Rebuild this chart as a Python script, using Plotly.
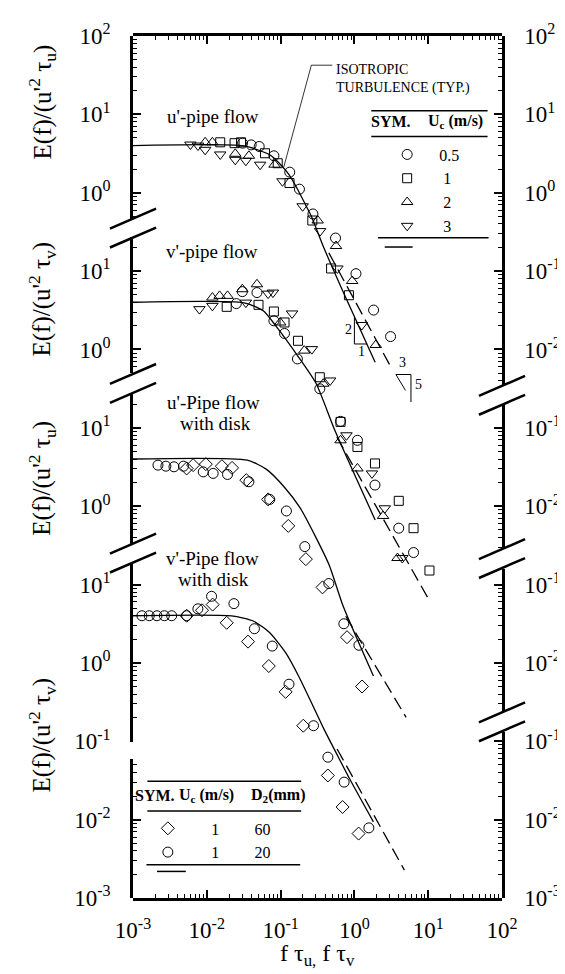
import numpy as np
import plotly.graph_objects as go

# ---------------- data ----------------
# Panel 1: u'-pipe flow, E(f)/(u'^2 tau_u) vs f tau_u ; symbols by U_c (m/s)
p1_u05_x = [0.0305, 0.0399, 0.0513, 0.0811, 0.133, 0.180, 0.274, 0.555, 1.05, 1.82, 3.09]
p1_u05_y = [4.29, 4.08, 3.89, 2.96, 1.83, 1.11, 0.536, 0.264, 0.0927, 0.0318, 0.0146]
p1_u1_x = [0.0152, 0.0238, 0.0291, 0.0614, 0.0914, 0.132, 0.269, 0.483, 0.843]
p1_u1_y = [4.4, 4.29, 4.4, 3.19, 2.38, 1.33, 0.442, 0.108, 0.0492]
p1_u2_x = [0.0095, 0.0119, 0.0243, 0.0372, 0.0828, 0.318, 0.564, 0.933, 1.95]
p1_u2_y = [4.4, 4.4, 3.14, 2.96, 2.28, 0.442, 0.209, 0.0748, 0.0114]
p1_u3_x = [0.0060, 0.0076, 0.0095, 0.0152, 0.0243, 0.0338, 0.0528, 0.106, 0.199, 0.343, 0.589, 1.26]
p1_u3_y = [4.12, 4.0, 3.53, 3.08, 2.63, 2.56, 2.28, 1.40, 0.672, 0.324, 0.108, 0.0205]
p1_curve_x = [0.001, 0.0321, 0.0713, 0.096, 0.130, 0.166, 0.213, 0.261, 0.387, 0.705, 1.91]
p1_curve_y = [4.0, 3.95, 3.05, 2.38, 1.70, 1.15, 0.733, 0.501, 0.197, 0.0542, 0.00686]
p1_dash_x = [0.45, 3.14]
p1_dash_y = [0.171, 0.0059]

# Panel 2: v'-pipe flow, E(f)/(u'^2 tau_v)
p2_u05_x = [0.0251, 0.0303, 0.0478, 0.0811, 0.113, 0.169, 0.340, 0.649, 1.10, 1.90, 3.99, 6.33]
p2_u05_y = [3.85, 5.47, 5.32, 2.32, 1.60, 0.757, 0.315, 0.121, 0.0693, 0.0186, 0.00524, 0.00256]
p2_u1_x = [0.0186, 0.0502, 0.0811, 0.113, 0.172, 0.340, 0.649, 1.10, 1.90, 3.99, 6.33, 10.4]
p2_u1_y = [3.50, 3.71, 3.05, 2.21, 1.29, 0.442, 0.119, 0.0570, 0.0351, 0.0117, 0.00524, 0.00151]
p2_u2_x = [0.0119, 0.0149, 0.0191, 0.0303, 0.0478, 0.0987, 0.209, 0.378, 0.649, 1.10, 2.45, 3.84]
p2_u2_y = [4.59, 4.83, 4.83, 5.87, 6.79, 2.21, 0.966, 0.365, 0.0693, 0.0303, 0.0075, 0.00218]
p2_u3_x = [0.00794, 0.0119, 0.0338, 0.0678, 0.0787, 0.143, 0.265, 0.469, 0.780, 1.73, 2.58, 4.46]
p2_u3_y = [3.27, 3.60, 3.96, 5.16, 5.32, 2.88, 1.01, 0.402, 0.0803, 0.0262, 0.0094, 0.00218]
p2_curve_x = [0.001, 0.0321, 0.0583, 0.0861, 0.177, 0.303, 0.550, 1.91]
p2_curve_y = [4.0, 3.93, 3.11, 2.0, 0.787, 0.367, 0.0903, 0.00668]
p2_dash_x = [0.578, 9.9]
p2_dash_y = [0.0764, 0.000676]

# Panel 3: u'-pipe flow with disk (U_c = 1 m/s), symbols by D2 (mm)
p3_d20_x = [0.00218, 0.00279, 0.00359, 0.00483, 0.00895, 0.0122, 0.0191, 0.0372, 0.0713, 0.120, 0.213, 0.450, 0.719, 1.15]
p3_d20_y = [3.34, 3.24, 3.18, 3.24, 2.74, 2.62, 2.54, 2.05, 1.22, 0.869, 0.305, 0.103, 0.0316, 0.0168]
p3_d60_x = [0.00533, 0.00652, 0.00970, 0.0160, 0.0220, 0.0343, 0.0678, 0.127, 0.220, 0.370, 0.794, 1.27]
p3_d60_y = [3.03, 3.34, 3.44, 3.24, 3.08, 2.15, 1.22, 0.560, 0.211, 0.0920, 0.0213, 0.0050]
p3_curve_x = [0.001, 0.0354, 0.0638, 0.109, 0.184, 0.303, 0.459, 0.705, 1.81]
p3_curve_y = [4.0, 3.86, 2.97, 1.81, 0.949, 0.394, 0.174, 0.0528, 0.00682]
p3_dash_x = [0.764, 5.02]
p3_dash_y = [0.0394, 0.00202]

# Panel 4: v'-pipe flow with disk
p4_d20_x = [0.00132, 0.00166, 0.00211, 0.00266, 0.00334, 0.00533, 0.00757, 0.0116, 0.0233, 0.0442, 0.0771, 0.130, 0.279, 0.437, 0.726, 1.57]
p4_d20_y = [4.0, 4.0, 4.0, 4.0, 4.0, 4.0, 4.90, 7.08, 5.71, 2.73, 1.64, 0.535, 0.158, 0.0627, 0.0301, 0.00785]
p4_d60_x = [0.00533, 0.00861, 0.0120, 0.0186, 0.0362, 0.0692, 0.117, 0.203, 0.437, 0.692, 1.14]
p4_d60_y = [4.0, 4.70, 5.55, 3.25, 1.87, 0.912, 0.427, 0.158, 0.0366, 0.0145, 0.00664]
p4_curve_x = [0.001, 0.0216, 0.0432, 0.0713, 0.117, 0.175, 0.261, 0.387, 0.578, 0.861, 1.81]
p4_curve_y = [4.0, 3.98, 3.40, 2.43, 1.35, 0.682, 0.313, 0.143, 0.0685, 0.0332, 0.00935]
p4_dash_x = [0.583, 4.76]
p4_dash_y = [0.0798, 0.00227]

# slope markers (panel-1 units) and leader line of the "isotropic" label
slope21_x = [1.0, 1.0, 1.49]
slope21_y = [0.0256, 0.01175, 0.01175]
slope35_x = [4.92, 3.65, 5.84, 5.84]
slope35_y = [0.0030, 0.00479, 0.00479, 0.00213]
leader_x = [0.110, 0.261, 0.502]
leader_y = [2.1, 42.4, 42.4]

x_tick_vals = [1e-3, 1e-2, 1e-1, 1e0, 1e1, 1e2]
x_tick_text = ["10<sup>-3</sup>", "10<sup>-2</sup>", "10<sup>-1</sup>", "10<sup>0</sup>", "10<sup>1</sup>", "10<sup>2</sup>"]

# ---------------- page geometry ----------------
W, H = 565, 974
PL, PR, PT, PB = 125, 509, 24, 890
LOG_TOP, LOG_BOT = 2.0, -9.0
PANEL_SCALE = [1.0, 1e-2, 1e-4, 1e-6]   # each panel stacked two decades lower
FONT = "Liberation Serif"


def fx(px):
    return (px - PL) / (PR - PL)


def fy(py):
    return (PB - py) / (PB - PT)


def lg(py):
    return LOG_TOP - (py - PT) * (LOG_TOP - LOG_BOT) / (PB - PT)


def sup(e):
    return "10<sup>%d</sup>" % e


fig = go.Figure()

LINE = dict(color="black", width=1.3)
DASH = dict(color="black", width=1.3, dash="13px,6px")


def mk(sym, size=10):
    return dict(symbol=sym, size=size, color="black", line=dict(color="black", width=1))


def add_pts(x, y, panel, sym, name=None, legend=None, size=10):
    fig.add_trace(go.Scatter(
        x=x, y=np.array(y) * PANEL_SCALE[panel], mode="markers", marker=mk(sym, size),
        name=name or "", showlegend=legend is not None, legend=legend or "legend",
        hoverinfo="skip"))


def add_line(x, y, panel, style, shape="spline"):
    st = dict(style, shape=shape)
    if shape == "spline":
        st["smoothing"] = 0.6
    fig.add_trace(go.Scatter(
        x=x, y=np.array(y) * PANEL_SCALE[panel], mode="lines", line=st,
        showlegend=False, hoverinfo="skip"))


# curves
add_line(p1_curve_x, p1_curve_y, 0, LINE)
add_line(p1_dash_x, p1_dash_y, 0, DASH, shape="linear")
add_line(p2_curve_x, p2_curve_y, 1, LINE)
add_line(p2_dash_x, p2_dash_y, 1, DASH, shape="linear")
add_line(p3_curve_x, p3_curve_y, 2, LINE)
add_line(p3_dash_x, p3_dash_y, 2, DASH, shape="linear")
add_line(p4_curve_x, p4_curve_y, 3, LINE)
add_line(p4_dash_x, p4_dash_y, 3, DASH, shape="linear")
add_line(slope21_x, slope21_y, 0, dict(color="black", width=1), shape="linear")
add_line(slope35_x, slope35_y, 0, dict(color="black", width=1), shape="linear")
add_line(leader_x, leader_y, 0, dict(color="black", width=0.8), shape="linear")

# points
PS = "\u2008"   # punctuation space, centres the one-digit values under "0.5"
add_pts(p1_u05_x, p1_u05_y, 0, "circle-open", "0.5", "legend")
add_pts(p1_u1_x, p1_u1_y, 0, "square-open", PS + "1", "legend", 9)
add_pts(p1_u2_x, p1_u2_y, 0, "triangle-up-open", PS + "2", "legend")
add_pts(p1_u3_x, p1_u3_y, 0, "triangle-down-open", PS + "3", "legend")
add_pts(p2_u05_x, p2_u05_y, 1, "circle-open")
add_pts(p2_u1_x, p2_u1_y, 1, "square-open", size=9)
add_pts(p2_u2_x, p2_u2_y, 1, "triangle-up-open")
add_pts(p2_u3_x, p2_u3_y, 1, "triangle-down-open")
NB = "\u2007"
add_pts(p3_d60_x, p3_d60_y, 2, "diamond-open", "1" + NB * 4 + "\u2009" + "60", "legend2")
add_pts(p3_d20_x, p3_d20_y, 2, "circle-open", "1" + NB * 4 + "\u2009" + "20", "legend2")
add_pts(p4_d60_x, p4_d60_y, 3, "diamond-open")
add_pts(p4_d20_x, p4_d20_y, 3, "circle-open")

# ---------------- axes ----------------
minor_vals = [m * 10.0 ** k for k in range(-10, 3) for m in range(2, 10)]
TICKFONT = dict(family=FONT, size=23, color="black")

layout_axes = {}
layout_axes["xaxis"] = dict(
    type="log", range=[-3, 2], domain=[0, 1], anchor="y", showline=True, linewidth=2.5,
    linecolor="black", mirror="ticks", ticks="inside", ticklen=8, tickwidth=1.5, tickcolor="black",
    tickvals=x_tick_vals, ticktext=x_tick_text, tickfont=TICKFONT, ticklabelstandoff=10,
    minor=dict(tickvals=minor_vals, ticks="inside", ticklen=4, tickwidth=1, tickcolor="black"),
    showgrid=False, zeroline=False)
layout_axes["yaxis"] = dict(type="log", range=[LOG_BOT, LOG_TOP], domain=[0, 1], anchor="x",
                            visible=False, showgrid=False, zeroline=False)

# axis segments (pixel top, pixel bottom, tick positions (stacked decades), tick label exponents)
left_segments = [
    (24, 208, [2, 1, 0], [2, 1, 0]),
    (226, 363, [-1, -2], [1, 0]),
    (383, 534, [-3, -4], [1, 0]),
    (553, 733, [-5, -6, -7], [1, 0, -1]),
    (750, 890, [-8, -9], [-2, -3]),
]
right_segments = [
    (24, 376, [2, 1, 0, -1, -2], [2, 1, 0, -1, -2]),
    (394, 539, [-3, -4], [-1, -2]),
    (559, 703, [-5, -6], [-1, -2]),
    (723, 890, [-7, -8, -9], [-1, -2, -3]),
]
n = 2
for side, segs in (("left", left_segments), ("right", right_segments)):
    for top, bot, pos, labs in segs:
        layout_axes["yaxis%d" % n] = dict(
            type="log", range=[lg(bot), lg(top)], domain=[fy(bot), fy(top)], anchor="x", side=side,
            showline=True, linewidth=2.5, linecolor="black", ticks="inside", ticklen=8, tickwidth=1.5,
            tickcolor="black", tickvals=[10.0 ** p for p in pos], ticktext=[sup(e) for e in labs],
            tickfont=TICKFONT, ticklabelstandoff=15,
            minor=dict(tickvals=minor_vals, ticks="inside", ticklen=4, tickwidth=1, tickcolor="black"),
            showgrid=False, zeroline=False)
        fig.add_trace(go.Scatter(x=[None], y=[None], yaxis="y%d" % n, showlegend=False, hoverinfo="skip"))
        n += 1

# ---------------- breaks, rules, texts ----------------
shapes = []


def pline(x0, y0, x1, y1, w=1.5):
    shapes.append(dict(type="line", xref="paper", yref="paper", x0=fx(x0), y0=fy(y0), x1=fx(x1), y1=fy(y1),
                       line=dict(color="black", width=w)))


for ax_x, cy in ((PL, 217), (PL, 373), (PL, 543.5), (PR, 385), (PR, 549), (PR, 713)):
    for d in (-9.5, 9.5):
        pline(ax_x - 24, cy + d + 10, ax_x + 24, cy + d - 10, 2.5)

# legend rules
pline(373, 99, 494, 99)
pline(373, 125, 494, 125)
pline(380, 226.7, 495, 226.7)
pline(387, 236, 416, 236)
pline(140, 772.7, 300, 772.7)
pline(140, 802.7, 300, 802.7)
pline(139, 856.7, 299, 856.7)
pline(150, 863.3, 180, 863.3)

ann = []


def text(px, py, s, size=19, anchor="center", angle=0, bold=False, yanchor="middle"):
    ann.append(dict(xref="paper", yref="paper", x=fx(px), y=fy(py), text=("<b>%s</b>" % s) if bold else s,
                    showarrow=False, xanchor=anchor, yanchor=yanchor, textangle=angle,
                    font=dict(family=FONT, size=size, color="black")))


text(208, 105, "u'-pipe flow")
text(207, 240, "v'-pipe flow")
text(209, 391.7, "u'-Pipe flow")
text(211, 413.3, "with disk")
text(208, 549, "v'-Pipe flow")
text(209, 570, "with disk")
text(334, 58, "ISOTROPIC", 14, "left")
text(334, 76, "TURBULENCE (TYP.)", 14, "left")
text(349.3, 319.3, "2", 14)
text(363.3, 341, "1", 14)
text(405, 351.7, "3", 14)
text(422.3, 374.3, "5", 14)
text(393, 110, "SYM.", 16, bold=True)
text(461, 110, "U<sub>c</sub> (m/s)", 16, bold=True)
text(148, 787.3, "SYM.", 16, bold=True)
text(201.7, 787.3, "U<sub>c</sub> (m/s)", 16, bold=True)
text(275.7, 787.3, "D<sub>2</sub>(mm)", 16, bold=True)
for cy, sub in ((90, "u"), (288, "v"), (468, "u"), (726, "v")):
    text(30, cy, "E(f)/(u'<sup>2</sup> \u03c4<sub>%s</sub>)" % sub, 25, angle=-90)
text(317, 964, "f \u03c4<sub>u,</sub> f \u03c4<sub>v</sub>", 24, yanchor="bottom")

fig.update_layout(
    width=W, height=H, autosize=False,
    margin=dict(l=PL, r=W - PR, t=PT, b=H - PB, pad=0),
    paper_bgcolor="white", plot_bgcolor="rgba(0,0,0,0)",
    font=dict(family=FONT, color="black"),
    shapes=shapes, annotations=ann,
    legend=dict(x=fx(377), y=fy(126), xanchor="left", yanchor="top", bgcolor="rgba(0,0,0,0)",
                borderwidth=0, font=dict(family=FONT, size=16, color="black"), itemwidth=54,
                tracegroupgap=0, itemclick=False, itemdoubleclick=False),
    legend2=dict(x=fx(116), y=fy(803), xanchor="left", yanchor="top", bgcolor="rgba(0,0,0,0)",
                 borderwidth=0, font=dict(family=FONT, size=16, color="black"), itemwidth=77,
                 tracegroupgap=0, itemclick=False, itemdoubleclick=False),
    showlegend=True,
    **layout_axes,
)

fig.write_html("out.html")
